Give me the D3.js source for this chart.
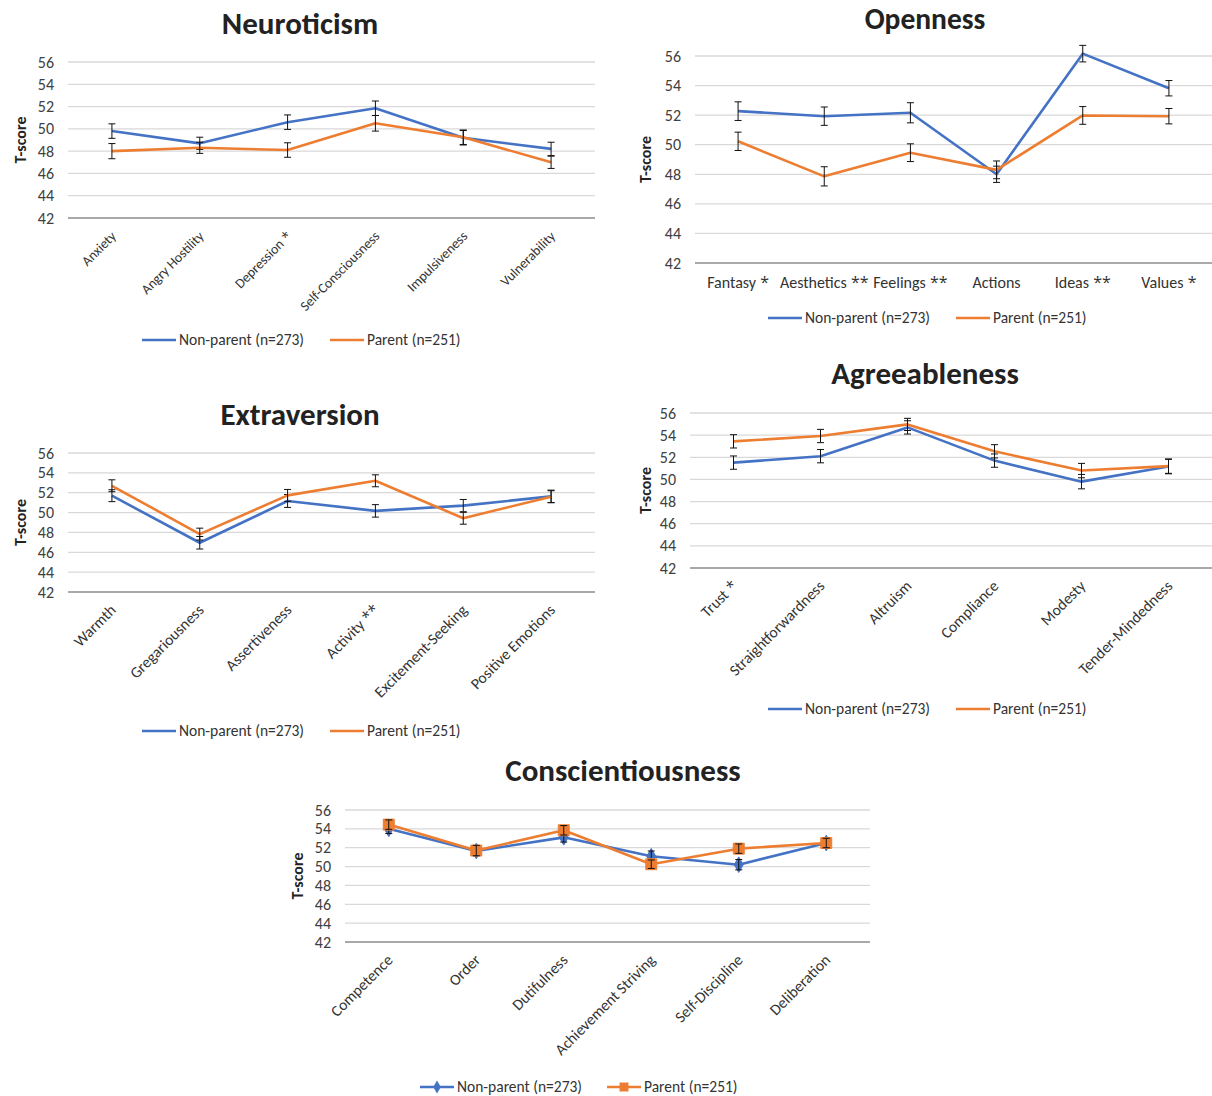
<!DOCTYPE html>
<html>
<head>
<meta charset="utf-8">
<script src="https://cdn.jsdelivr.net/npm/d3@7"></script>
<style>
  body { margin: 0; background: #fff; }
  svg { font-family: Carlito, Lato, "Open Sans", sans-serif; }
  .grid line { stroke: #d9d9d9; stroke-width: 1.3; }
  .tick-label { fill: #404040; font-size: 16px; }
  .cat-label { fill: #333; }
  .legend-label { fill: #333; font-size: 15.5px; }
  .chart-title { fill: #222; font-size: 31px; font-weight: bold; }
  .y-title { fill: #222; font-size: 16px; font-weight: bold; }
</style>
</head>
<body>
<svg id="chart" width="1212" height="1096"></svg>
<script>
// ---- data ----
const yTicks = [42, 44, 46, 48, 50, 52, 54, 56];
const seriesNames = ["Non-parent (n=273)", "Parent (n=251)"];

const neuroCats = ["Anxiety", "Angry Hostility", "Depression *", "Self-Consciousness", "Impulsiveness", "Vulnerability"];
const neuroNonParent = [49.8, 48.7, 50.6, 51.85, 49.2, 48.2];
const neuroNonParentErr = [0.65, 0.55, 0.65, 0.65, 0.65, 0.6];
const neuroParent = [48.0, 48.3, 48.1, 50.5, 49.25, 47.0];
const neuroParentErr = [0.68, 0.5, 0.65, 0.7, 0.65, 0.55];

const openCats = ["Fantasy *", "Aesthetics **", "Feelings **", "Actions", "Ideas **", "Values *"];
const openNonParent = [52.27, 51.93, 52.16, 48.0, 56.16, 53.82];
const openNonParentErr = [0.63, 0.62, 0.68, 0.55, 0.56, 0.52];
const openParent = [50.23, 47.86, 49.46, 48.3, 51.98, 51.93];
const openParentErr = [0.62, 0.65, 0.6, 0.6, 0.6, 0.52];

const extraCats = ["Warmth", "Gregariousness", "Assertiveness", "Activity **", "Excitement-Seeking", "Positive Emotions"];
const extraNonParent = [51.7, 46.96, 51.17, 50.17, 50.7, 51.63];
const extraNonParentErr = [0.6, 0.63, 0.65, 0.63, 0.62, 0.63];
const extraParent = [52.7, 47.83, 51.73, 53.2, 49.43, 51.6];
const extraParentErr = [0.6, 0.6, 0.6, 0.6, 0.6, 0.6];

const agreeCats = ["Trust *", "Straightforwardness", "Altruism", "Compliance", "Modesty", "Tender-Mindedness"];
const agreeNonParent = [51.52, 52.1, 54.7, 51.7, 49.8, 51.16];
const agreeNonParentErr = [0.6, 0.6, 0.6, 0.6, 0.65, 0.65];
const agreeParent = [53.44, 53.92, 54.97, 52.54, 50.8, 51.2];
const agreeParentErr = [0.6, 0.6, 0.55, 0.6, 0.65, 0.65];

const consCats = ["Competence", "Order", "Dutifulness", "Achievement Striving", "Self-Discipline", "Deliberation"];
const consNonParent = [54.0, 51.65, 53.1, 51.1, 50.2, 52.5];
const consNonParentErr = [0.5, 0.5, 0.5, 0.55, 0.55, 0.5];
const consParent = [54.45, 51.7, 53.85, 50.25, 51.9, 52.5];
const consParentErr = [0.5, 0.55, 0.5, 0.45, 0.5, 0.5];

const blue = "#4472c4";
const orange = "#ed7d31";

const svg = d3.select("#chart");

// category text: asterisks set in Open Sans so they read like the original
function catText(sel) {
    sel.each(function(d) {
        const m = d.match(/^(.*?)(\s\*+)?$/);
        const t = d3.select(this);
        t.append("tspan").text(m[1]);
        if (m[2]) t.append("tspan").style("font-family", "'Open Sans'").text(m[2]);
    });
}

function drawPanel(cfg) {
    const g = svg.append("g");
    const x = d3.scaleBand().domain(cfg.cats).range([cfg.x0, cfg.x1]);
    const y = d3.scaleLinear().domain([42, 56]).range([cfg.yBottom, cfg.yTop]);
    const cx = c => x(c) + x.bandwidth() / 2;

    // title
    g.append("text").attr("class", "chart-title")
        .attr("x", cfg.titleX).attr("y", cfg.titleY)
        .style("font-size", (cfg.titleSize || 31) + "px")
        .attr("text-anchor", "middle").text(cfg.title);

    // gridlines
    g.append("g").attr("class", "grid")
        .selectAll("line").data(yTicks).enter().append("line")
        .attr("x1", cfg.x0).attr("x2", cfg.x1)
        .attr("y1", d => y(d)).attr("y2", d => y(d))
        .style("stroke", d => d === 42 ? "#8c8c8c" : null);

    // y tick labels
    g.selectAll(".tick-label").data(yTicks).enter().append("text")
        .attr("class", "tick-label")
        .attr("x", cfg.x0 - 14).attr("y", d => y(d))
        .attr("dy", "0.35em").attr("text-anchor", "end")
        .text(d => d);

    // y title
    g.append("text").attr("class", "y-title")
        .attr("transform", `translate(${cfg.yTitleX},${(cfg.yTop + cfg.yBottom) / 2}) rotate(-90)`)
        .attr("text-anchor", "middle").attr("dy", "0.35em")
        .text("T-score");

    // category labels
    if (cfg.rotate) {
        g.selectAll(".cat-label").data(cfg.cats).enter().append("text")
            .attr("class", "cat-label")
            .attr("text-anchor", "end")
            .style("font-size", cfg.catSize + "px")
            .attr("transform", d => `translate(${cx(d) + 5},${cfg.yBottom + 19}) rotate(-45)`)
            .call(catText);
    } else {
        g.selectAll(".cat-label").data(cfg.cats).enter().append("text")
            .attr("class", "cat-label")
            .attr("x", d => cx(d)).attr("y", cfg.yBottom + 25)
            .attr("text-anchor", "middle")
            .style("font-size", cfg.catSize + "px")
            .call(catText);
    }

    const series = [
        { vals: cfg.np, err: cfg.npErr, color: blue, marker: "diamond" },
        { vals: cfg.p, err: cfg.pErr, color: orange, marker: "square" }
    ];

    const line = d3.line().x(d => cx(d.cat)).y(d => y(d.v));

    series.forEach(s => {
        const pts = cfg.cats.map((c, i) => ({ cat: c, v: s.vals[i], e: s.err[i] }));
        g.append("path").datum(pts)
            .attr("d", line).attr("fill", "none")
            .attr("stroke", s.color).attr("stroke-width", 2.6)
            .attr("stroke-linejoin", "round");

        if (cfg.markers) {
            const sym = s.marker === "diamond" ? d3.symbolDiamond : d3.symbolSquare;
            const size = s.marker === "diamond" ? 70 : 120;
            g.selectAll(null).data(pts).enter().append("path")
                .attr("d", d3.symbol().type(sym).size(size))
                .attr("transform", d => `translate(${cx(d.cat)},${y(d.v)})`)
                .attr("fill", s.color).attr("stroke", s.color);
        }

        // error bars
        const eb = g.selectAll(null).data(pts).enter().append("g")
            .attr("stroke", "#111").attr("stroke-width", 1);
        eb.append("line")
            .attr("x1", d => cx(d.cat)).attr("x2", d => cx(d.cat))
            .attr("y1", d => y(d.v - d.e)).attr("y2", d => y(d.v + d.e));
        eb.append("line")
            .attr("x1", d => cx(d.cat) - 3.5).attr("x2", d => cx(d.cat) + 3.5)
            .attr("y1", d => y(d.v + d.e)).attr("y2", d => y(d.v + d.e));
        eb.append("line")
            .attr("x1", d => cx(d.cat) - 3.5).attr("x2", d => cx(d.cat) + 3.5)
            .attr("y1", d => y(d.v - d.e)).attr("y2", d => y(d.v - d.e));
    });

    // legend
    const lg = g.append("g").attr("transform", `translate(${cfg.legendX},${cfg.legendY})`);
    [0, 1].forEach(i => {
        const off = i === 0 ? 0 : cfg.legendGap;
        const color = i === 0 ? blue : orange;
        lg.append("line").attr("x1", off).attr("x2", off + 34)
            .attr("y1", 0).attr("y2", 0)
            .attr("stroke", color).attr("stroke-width", 2.6);
        if (cfg.markers) {
            lg.append("path")
                .attr("d", d3.symbol().type(i === 0 ? d3.symbolDiamond : d3.symbolSquare).size(i === 0 ? 50 : 80))
                .attr("transform", `translate(${off + 17},0)`)
                .attr("fill", color);
        }
        lg.append("text").attr("class", "legend-label")
            .attr("x", off + 37).attr("y", 0).attr("dy", "0.35em")
            .text(seriesNames[i]);
    });
}

drawPanel({
    title: "Neuroticism", titleX: 300, titleY: 34,
    cats: neuroCats, np: neuroNonParent, npErr: neuroNonParentErr, p: neuroParent, pErr: neuroParentErr,
    x0: 68, x1: 595, yTop: 62, yBottom: 218, yTitleX: 20, rotate: true, catSize: 13.8,
    legendX: 142, legendY: 340, legendGap: 188
});

drawPanel({
    title: "Openness", titleX: 925, titleY: 29, titleSize: 29.5,
    cats: openCats, np: openNonParent, npErr: openNonParentErr, p: openParent, pErr: openParentErr,
    x0: 695, x1: 1212, yTop: 56, yBottom: 263, yTitleX: 645, rotate: false, catSize: 16,
    legendX: 768, legendY: 318, legendGap: 188
});

drawPanel({
    title: "Extraversion", titleX: 300, titleY: 425,
    cats: extraCats, np: extraNonParent, npErr: extraNonParentErr, p: extraParent, pErr: extraParentErr,
    x0: 68, x1: 595, yTop: 453, yBottom: 592, yTitleX: 20, rotate: true, catSize: 15.6,
    legendX: 142, legendY: 731, legendGap: 188
});

drawPanel({
    title: "Agreeableness", titleX: 925, titleY: 384,
    cats: agreeCats, np: agreeNonParent, npErr: agreeNonParentErr, p: agreeParent, pErr: agreeParentErr,
    x0: 690, x1: 1212, yTop: 413, yBottom: 568, yTitleX: 645, rotate: true, catSize: 15.6,
    legendX: 768, legendY: 709, legendGap: 188
});

drawPanel({
    title: "Conscientiousness", titleX: 623, titleY: 781,
    cats: consCats, np: consNonParent, npErr: consNonParentErr, p: consParent, pErr: consParentErr,
    x0: 345, x1: 870, yTop: 810, yBottom: 942, yTitleX: 297, rotate: true, markers: true, catSize: 15.6,
    legendX: 420, legendY: 1087, legendGap: 187
});
</script>
</body>
</html>
